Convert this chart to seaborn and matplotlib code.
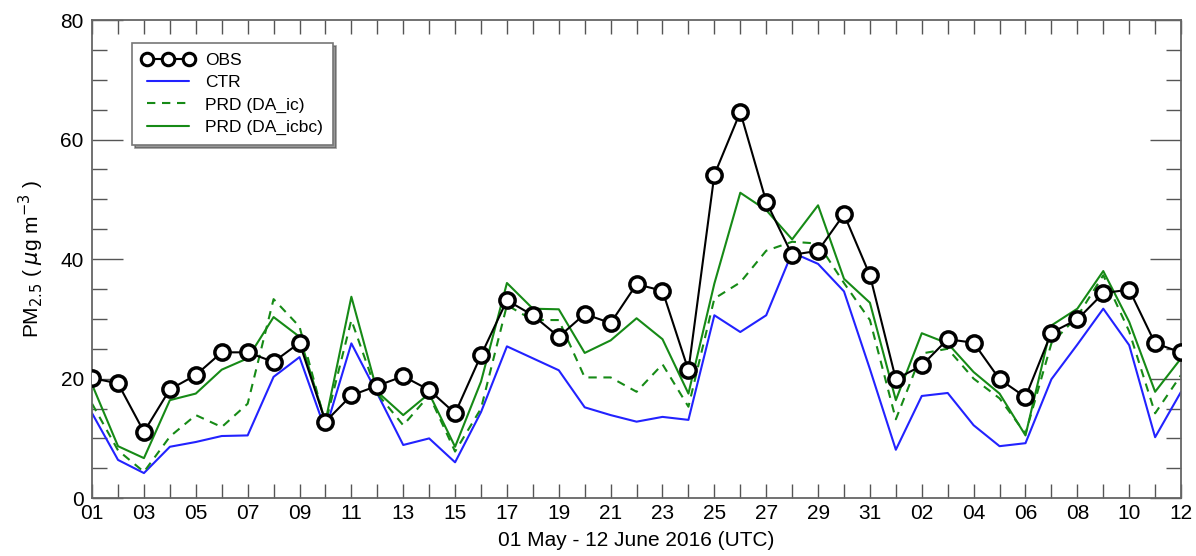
import numpy as np
import pandas as pd
import matplotlib
matplotlib.use("Agg")
import matplotlib.pyplot as plt
import seaborn as sns
from matplotlib.ticker import MultipleLocator

# ---- data ----
tick_labels = ["01", "03", "05", "07", "09", "11", "13", "15", "17", "19", "21",
               "23", "25", "27", "29", "31", "02", "04", "06", "08", "10", "12"]

obs = [20.1, 19.2, 11.1, 18.2, 20.6, 24.4, 24.4, 22.8, 26.0, 12.8, 17.2, 18.8, 20.4,
       18.1, 14.2, 23.9, 33.1, 30.6, 27.0, 30.8, 29.3, 35.8, 34.7, 21.4, 54.1, 64.6,
       49.6, 40.7, 41.4, 47.5, 37.3, 19.9, 22.2, 26.6, 26.0, 19.9, 16.9, 27.7, 29.9,
       34.3, 34.9, 25.9, 24.4]
ctr = [14.2, 6.4, 4.2, 8.6, 9.4, 10.4, 10.5, 20.3, 23.6, 11.4, 25.9, 17.5, 8.9,
       10.0, 6.0, 14.4, 25.4, 23.4, 21.4, 15.2, 13.9, 12.8, 13.6, 13.1, 30.6, 27.8,
       30.6, 41.1, 39.2, 34.6, 21.6, 8.1, 17.1, 17.6, 12.2, 8.7, 9.2, 19.9, 25.7,
       31.7, 25.6, 10.2, 17.8]
prd_ic = [15.8, 8.0, 4.4, 10.3, 13.9, 11.9, 15.8, 33.3, 28.7, 12.5, 29.8, 17.5, 12.2,
          17.2, 7.8, 15.0, 32.3, 29.8, 29.8, 20.2, 20.2, 17.8, 22.4, 15.3, 33.4, 36.1,
          41.4, 42.9, 42.6, 36.0, 29.8, 13.2, 24.2, 25.0, 20.0, 16.7, 10.8, 25.9, 30.4,
          37.3, 27.9, 14.2, 20.6]
prd_icbc = [19.0, 8.7, 6.7, 16.4, 17.5, 21.5, 23.4, 30.3, 27.0, 12.8, 33.7, 17.8, 13.9,
            17.5, 8.6, 19.5, 36.0, 31.7, 31.6, 24.3, 26.4, 30.1, 26.6, 17.5, 35.9, 51.1,
            48.2, 43.3, 49.0, 36.7, 32.7, 16.4, 27.6, 25.9, 21.1, 17.5, 10.5, 28.9, 31.7,
            38.0, 29.5, 17.8, 23.4]

days = np.arange(len(obs))

sns.set_style("ticks")
plt.rcParams["font.family"] = ["Liberation Sans", "DejaVu Sans"]
plt.rcParams["text.color"] = "black"
plt.rcParams["axes.labelcolor"] = "black"
plt.rcParams["xtick.labelcolor"] = "black"
plt.rcParams["ytick.labelcolor"] = "black"

fig = plt.figure(figsize=(11.96, 5.56), dpi=100)
ax = fig.add_axes([0.077, 0.104, 0.9105, 0.860])

blue = "#2222ff"
green = "#168a16"

sns.lineplot(x=days, y=ctr, ax=ax, color=blue, lw=1.5, label="CTR", zorder=2)
sns.lineplot(x=days, y=prd_ic, ax=ax, color=green, lw=1.5, ls=(0, (4, 3.2)),
             label="PRD (DA_ic)", zorder=2)
sns.lineplot(x=days, y=prd_icbc, ax=ax, color=green, lw=1.5, label="PRD (DA_icbc)", zorder=2)
sns.lineplot(x=days, y=obs, ax=ax, color="black", lw=1.5, marker="o", markersize=11,
             markerfacecolor="white", markeredgecolor="black", markeredgewidth=2.5,
             label="OBS", zorder=3)

ax.set_xlim(0, len(obs) - 1)
ax.set_ylim(0, 80)
ax.set_xticks(days[::2])
ax.set_xticklabels(tick_labels, fontsize=15)
ax.xaxis.set_minor_locator(MultipleLocator(1))
ax.set_yticks([0, 20, 40, 60, 80])
ax.yaxis.set_minor_locator(MultipleLocator(5))
ax.tick_params(axis="y", labelsize=15)

ax.tick_params(axis="x", which="both", direction="in", top=True, bottom=True,
               length=10, width=1, color="#555555", pad=4)
ax.tick_params(axis="y", which="major", direction="in", left=True, right=True,
               length=22, width=1, color="#555555", pad=6)
ax.tick_params(axis="y", which="minor", direction="in", left=True, right=True,
               length=11, width=1, color="#555555")
for s in ax.spines.values():
    s.set_visible(True)
    s.set_color("#666666")
    s.set_linewidth(1.3)

ax.set_xlabel("01 May - 12 June 2016 (UTC)", fontsize=15, labelpad=6)
ax.set_ylabel(r"PM$_{2.5}$ ( $\mu$g m$^{-3}$ )", fontsize=15, labelpad=10)

handles, labels = ax.get_legend_handles_labels()
order = [labels.index(l) for l in ["OBS", "CTR", "PRD (DA_ic)", "PRD (DA_icbc)"]]
leg = ax.legend([handles[i] for i in order], [labels[i] for i in order],
                loc="upper left", bbox_to_anchor=(0.037, 0.952), borderaxespad=0,
                fontsize=12.5, frameon=True, fancybox=False, shadow={"color": "#333333"},
                edgecolor="#777777", framealpha=1, numpoints=3, handlelength=3.0,
                labelspacing=0.42, borderpad=0.55, handletextpad=0.65)
leg.get_frame().set_linewidth(1.2)
for h in leg.legend_handles:
    try:
        h.set_markersize(9)
        h.set_markeredgewidth(2.2)
    except Exception:
        pass

fig.savefig("out.png", dpi=100)
